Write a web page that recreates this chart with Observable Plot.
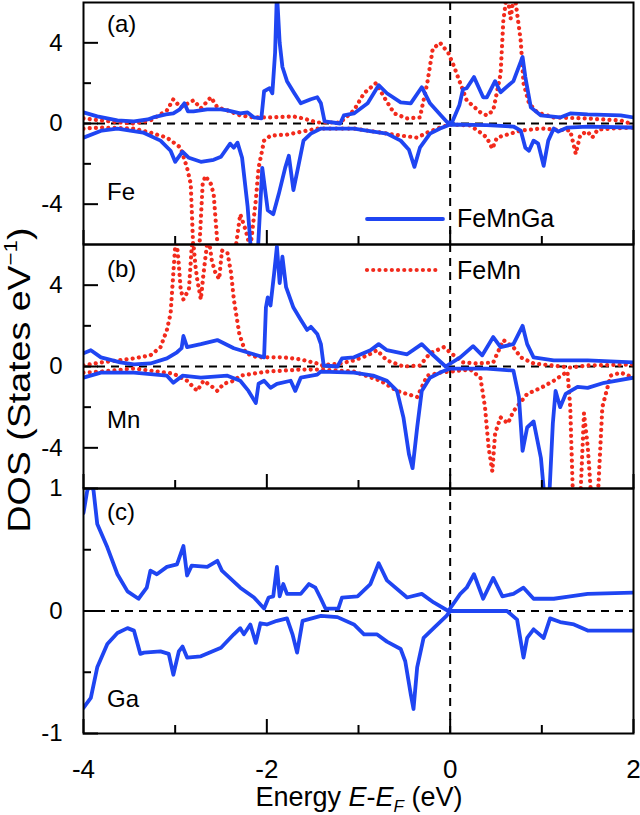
<!DOCTYPE html>
<html>
<head>
<meta charset="utf-8">
<script src="https://cdn.jsdelivr.net/npm/d3@7"></script>
<script src="https://cdn.jsdelivr.net/npm/@observablehq/plot@0.6"></script>
<style>
  html, body { margin: 0; padding: 0; background: #fff; }
  #chart { position: relative; width: 640px; height: 815px; overflow: hidden;
           font-family: "Liberation Sans", Arial, Helvetica, sans-serif; }
  #chart svg { position: absolute; left: 0; }
</style>
</head>
<body>
<div id="chart"></div>
<script>
// ---------------- data (energy in eV, DOS in states/eV) ----------------
const energyDomain = [-4, 2];
const xTickMajor = [-4, -2, 0, 2];
const xTickMinor = [-3, -1, 1];
const xTickLabels = [-4, -2, 0, 2];
const yTickMajorFeMn = [-4, 0, 4];
const yTickMinorFeMn = [-2, 2];
const yTickMajorGa = [-1, 0, 1];
const yTickMinorGa = [-0.5, 0.5];
const seriesNames = ["FeMnGa", "FeMn"];
const panelLetters = ["(a)", "(b)", "(c)"];
const elementNames = ["Fe", "Mn", "Ga"];

// (a) Fe — FeMnGa, spin up / spin down
const feUpGa = [[-4,0.55],[-3.85,0.35],[-3.63,0.15],[-3.45,0.1],[-3.3,0.2],[-3.24,0.3],[-3.1,0.45],[-3.02,0.5],[-2.95,0.7],[-2.9,1.0],[-2.86,0.6],[-2.8,0.6],[-2.65,0.7],[-2.5,0.7],[-2.43,0.65],[-2.29,0.5],[-2.21,0.55],[-2.14,0.3],[-2.06,0.25],[-2.03,1.6],[-1.97,1.75],[-1.94,1.5],[-1.91,3.5],[-1.89,6.5],[-1.86,4.0],[-1.83,2.8],[-1.78,2.1],[-1.7,1.5],[-1.63,1.0],[-1.52,1.2],[-1.45,1.3],[-1.41,1.0],[-1.37,0.1],[-1.2,0.0],[-1.16,0.4],[-1.05,0.5],[-0.9,1.0],[-0.78,1.9],[-0.69,1.5],[-0.54,1.05],[-0.43,1.0],[-0.31,1.8],[-0.22,1.0],[-0.1,0.4],[-0.03,0.05],[0.02,0.05],[0.1,0.9],[0.14,1.7],[0.18,1.75],[0.26,2.3],[0.36,1.3],[0.4,1.3],[0.49,2.1],[0.55,1.55],[0.69,2.1],[0.79,3.3],[0.82,2.3],[0.88,0.8],[0.99,0.4],[1.2,0.3],[1.31,0.5],[1.5,0.45],[1.86,0.4],[2,0.3]];
const feDnGa = [[-4,-0.7],[-3.8,-0.35],[-3.63,-0.25],[-3.35,-0.45],[-3.16,-0.85],[-3.05,-1.35],[-3.0,-1.9],[-2.92,-1.4],[-2.85,-1.7],[-2.72,-1.9],[-2.58,-1.8],[-2.5,-1.65],[-2.4,-1.0],[-2.36,-1.2],[-2.32,-0.95],[-2.27,-1.7],[-2.21,-4.1],[-2.17,-6.5],[-2.1,-6.5],[-2.05,-2.2],[-1.99,-4.3],[-1.93,-4.5],[-1.87,-3.5],[-1.8,-2.2],[-1.76,-1.6],[-1.71,-3.3],[-1.66,-2.2],[-1.6,-0.85],[-1.52,-0.5],[-1.41,-0.25],[-1.05,-0.25],[-0.84,-0.4],[-0.69,-0.5],[-0.54,-0.85],[-0.45,-1.3],[-0.39,-2.15],[-0.33,-1.2],[-0.22,-0.5],[-0.11,-0.25],[0,-0.05],[0.4,-0.08],[0.69,-0.15],[0.77,-0.35],[0.82,-1.2],[0.86,-1.35],[0.91,-0.85],[0.96,-1.0],[1.02,-2.1],[1.07,-0.85],[1.13,-0.25],[1.18,-0.4],[1.28,-0.2],[1.5,-0.15],[2,-0.2]];
// (a) Fe — FeMn
const feUpMn = [[-4,0.25],[-3.81,0.15],[-3.6,0.05],[-3.45,0.0],[-3.27,0.15],[-3.09,0.65],[-3.02,1.2],[-2.94,0.8],[-2.8,1.15],[-2.72,0.75],[-2.61,1.3],[-2.54,0.8],[-2.43,0.65],[-2.29,0.4],[-2.14,0.3],[-2.0,0.3],[-1.71,0.35],[-1.6,0.25],[-1.45,0.05],[-1.2,0.05],[-1.05,0.65],[-0.94,1.5],[-0.81,2.0],[-0.72,1.3],[-0.61,0.5],[-0.47,0.25],[-0.33,0.3],[-0.25,2.0],[-0.19,3.7],[-0.11,4.0],[-0.02,3.5],[0.04,2.85],[0.11,2.0],[0.18,1.15],[0.33,0.55],[0.4,0.4],[0.47,0.65],[0.55,2.45],[0.58,5.1],[0.62,6.5],[0.66,5.2],[0.7,6.5],[0.77,4.1],[0.8,2.0],[0.86,1.0],[0.95,0.55],[1.13,0.3],[1.5,0.25],[1.86,0.15],[2,-0.05]];
const feDnMn = [[-4,-0.25],[-3.81,-0.2],[-3.45,-0.25],[-3.27,-0.45],[-3.09,-0.7],[-2.94,-1.2],[-2.87,-2.2],[-2.83,-3.0],[-2.8,-6.5],[-2.74,-6.5],[-2.7,-3.0],[-2.67,-2.6],[-2.61,-3.0],[-2.58,-3.5],[-2.53,-6.5],[-2.35,-6.5],[-2.29,-4.5],[-2.23,-5.3],[-2.18,-6.2],[-2.12,-3.8],[-2.09,-2.2],[-2.03,-0.85],[-1.96,-0.6],[-1.78,-0.55],[-1.45,-0.25],[-1.05,-0.25],[-0.76,-0.45],[-0.54,-0.6],[-0.36,-0.7],[-0.25,-0.45],[-0.11,-0.2],[0,-0.05],[0.22,-0.1],[0.33,-0.45],[0.4,-0.7],[0.46,-1.25],[0.51,-0.7],[0.62,-0.55],[0.77,-0.35],[0.99,-0.25],[1.31,-0.35],[1.37,-1.5],[1.42,-0.55],[1.5,-0.4],[1.55,-0.7],[1.61,-0.3],[1.75,-0.25],[2,-0.2]];

// (b) Mn — FeMnGa
const mnUpGa = [[-4,0.65],[-3.92,0.8],[-3.81,0.45],[-3.6,0.2],[-3.45,0.1],[-3.27,0.15],[-3.09,0.4],[-2.98,0.7],[-2.93,0.9],[-2.91,1.5],[-2.87,0.95],[-2.72,1.1],[-2.54,1.3],[-2.36,0.9],[-2.18,0.65],[-2.03,0.45],[-2.01,2.9],[-1.99,3.4],[-1.96,3.0],[-1.92,4.6],[-1.89,5.9],[-1.86,4.1],[-1.83,5.4],[-1.79,3.9],[-1.71,2.9],[-1.63,2.3],[-1.56,1.8],[-1.52,1.95],[-1.45,1.6],[-1.41,1.1],[-1.38,0.05],[-1.23,0.0],[-1.18,0.4],[-1.05,0.45],[-0.87,0.8],[-0.78,1.1],[-0.69,0.8],[-0.47,0.6],[-0.31,1.1],[-0.22,0.7],[-0.05,0.0],[0.11,0.45],[0.25,1.0],[0.35,0.55],[0.47,1.45],[0.55,0.95],[0.69,1.1],[0.79,2.0],[0.84,1.1],[0.91,0.45],[1.13,0.3],[1.5,0.3],[2,0.2]];
const mnDnGa = [[-4,-0.55],[-3.81,-0.3],[-3.45,-0.3],[-3.09,-0.45],[-3.02,-0.8],[-2.92,-0.45],[-2.72,-0.55],[-2.43,-0.45],[-2.29,-0.7],[-2.2,-1.2],[-2.12,-1.8],[-2.09,-0.85],[-2.03,-0.7],[-1.96,-1.05],[-1.89,-0.85],[-1.74,-0.7],[-1.69,-1.2],[-1.63,-0.55],[-1.45,-0.4],[-1.41,-0.25],[-1.05,-0.3],[-0.84,-0.45],[-0.69,-0.7],[-0.58,-1.2],[-0.51,-2.5],[-0.45,-4.3],[-0.41,-5.0],[-0.36,-3.0],[-0.31,-1.2],[-0.22,-0.55],[-0.11,-0.3],[0,-0.1],[0.4,-0.1],[0.69,-0.2],[0.75,-1.5],[0.79,-4.15],[0.84,-3.0],[0.91,-2.7],[0.99,-4.5],[1.03,-6.5],[1.08,-6.5],[1.12,-2.8],[1.15,-1.2],[1.2,-2.0],[1.26,-1.35],[1.39,-1.0],[1.5,-1.05],[1.68,-0.8],[2,-0.55]];
// (b) Mn — FeMn
const mnUpMn = [[-4,0.05],[-3.81,0.2],[-3.45,0.4],[-3.27,0.55],[-3.16,0.95],[-3.09,1.8],[-3.05,2.6],[-3.02,4.6],[-2.99,6.5],[-2.96,5.0],[-2.94,3.8],[-2.91,3.3],[-2.85,3.8],[-2.81,6.5],[-2.78,5.0],[-2.76,4.3],[-2.72,3.3],[-2.69,4.6],[-2.64,6.5],[-2.6,5.2],[-2.56,4.6],[-2.52,4.3],[-2.49,5.7],[-2.43,5.6],[-2.39,4.6],[-2.36,3.3],[-2.3,1.6],[-2.23,0.65],[-2.1,0.45],[-1.82,0.45],[-1.63,0.35],[-1.45,0.15],[-1.41,0.05],[-1.2,0.15],[-1.05,0.3],[-0.9,0.55],[-0.8,0.8],[-0.69,0.3],[-0.51,0.0],[-0.33,0.05],[-0.22,0.65],[-0.07,0.95],[0.04,0.55],[0.14,0.2],[0.29,0.15],[0.47,0.2],[0.58,1.3],[0.69,0.95],[0.77,0.45],[0.91,0.15],[1.31,-0.05],[1.5,0.05],[2,0.1]];
const mnDnMn = [[-4,-0.3],[-3.81,-0.25],[-3.45,-0.1],[-3.19,-0.25],[-3.02,-0.35],[-2.87,-0.7],[-2.76,-1.2],[-2.69,-0.7],[-2.58,-1.05],[-2.54,-1.2],[-2.47,-0.85],[-2.36,-0.7],[-2.29,-0.45],[-2.0,-0.25],[-1.63,-0.15],[-1.41,-0.15],[-1.05,-0.25],[-0.76,-0.7],[-0.58,-1.2],[-0.36,-1.5],[-0.25,-0.45],[-0.11,-0.3],[0,-0.25],[0.22,-0.15],[0.33,-0.55],[0.38,-2.0],[0.42,-4.0],[0.46,-5.15],[0.49,-3.3],[0.55,-2.5],[0.63,-2.8],[0.69,-2.2],[0.84,-1.35],[0.99,-1.05],[1.13,-0.7],[1.28,-0.25],[1.31,-2.0],[1.34,-6.5],[1.42,-6.5],[1.46,-2.3],[1.5,-3.9],[1.54,-6.5],[1.61,-6.5],[1.66,-2.0],[1.75,-0.45],[1.86,-0.3],[2,-0.55]];

// (c) Ga — FeMnGa
const gaUp = [[-4,0.8],[-3.96,0.98],[-3.92,1.05],[-3.89,0.98],[-3.85,0.71],[-3.74,0.52],[-3.63,0.3],[-3.52,0.16],[-3.4,0.1],[-3.31,0.19],[-3.27,0.33],[-3.2,0.3],[-3.09,0.36],[-2.98,0.38],[-2.91,0.53],[-2.87,0.29],[-2.82,0.37],[-2.65,0.36],[-2.54,0.41],[-2.49,0.33],[-2.29,0.19],[-2.14,0.11],[-2.03,0.02],[-1.98,0.11],[-1.93,0.12],[-1.89,0.36],[-1.86,0.12],[-1.82,0.22],[-1.78,0.14],[-1.63,0.14],[-1.54,0.22],[-1.47,0.19],[-1.41,0.1],[-1.36,0.02],[-1.22,0.02],[-1.18,0.11],[-1.01,0.12],[-0.87,0.22],[-0.78,0.39],[-0.69,0.25],[-0.47,0.11],[-0.31,0.14],[-0.18,0.07],[-0.02,0.0],[0.11,0.14],[0.18,0.19],[0.26,0.3],[0.36,0.1],[0.47,0.27],[0.57,0.12],[0.69,0.14],[0.8,0.19],[0.91,0.1],[1.13,0.1],[1.31,0.12],[1.5,0.14],[2,0.15]];
const gaDn = [[-4,-0.79],[-3.92,-0.71],[-3.85,-0.46],[-3.74,-0.27],[-3.63,-0.18],[-3.52,-0.14],[-3.45,-0.16],[-3.38,-0.35],[-3.34,-0.34],[-3.16,-0.33],[-3.07,-0.35],[-3.02,-0.52],[-2.96,-0.33],[-2.92,-0.29],[-2.87,-0.38],[-2.72,-0.37],[-2.5,-0.3],[-2.36,-0.19],[-2.29,-0.14],[-2.25,-0.19],[-2.18,-0.11],[-2.12,-0.26],[-2.07,-0.1],[-2.0,-0.11],[-1.89,-0.08],[-1.78,-0.06],[-1.72,-0.19],[-1.67,-0.34],[-1.61,-0.08],[-1.41,-0.04],[-1.23,-0.05],[-1.05,-0.11],[-0.94,-0.19],[-0.8,-0.19],[-0.69,-0.25],[-0.54,-0.31],[-0.49,-0.41],[-0.43,-0.68],[-0.4,-0.8],[-0.36,-0.46],[-0.29,-0.22],[-0.18,-0.14],[-0.04,-0.04],[0,0],[0.62,0],[0.73,-0.07],[0.8,-0.38],[0.84,-0.22],[0.91,-0.15],[1.02,-0.22],[1.09,-0.06],[1.2,-0.09],[1.35,-0.11],[1.5,-0.16],[2,-0.16]];

// ---------------- styling ----------------
const BLUE = "#1f45f2";
const RED = "#f22a1c";
const FONT = "'Liberation Sans', Arial, Helvetica, sans-serif";
const W = 640, ML = 83, MR = 7;
const plotW = W - ML - MR;
const fmt = d => (d < 0 ? "-" : "") + Math.abs(d);
const styles = {
  FeMnGa: {stroke: BLUE, strokeWidth: 3.8, strokeDasharray: null},
  FeMn: {stroke: RED, strokeWidth: 4.2, strokeDasharray: "0.01,6.2"}
};

const panels = [
  {top: 0, height: 244, mt: 2, mb: 0, yDomain: [-6, 6], yMajor: yTickMajorFeMn, yMinor: yTickMinorFeMn,
   series: [["FeMn", feUpMn], ["FeMn", feDnMn], ["FeMnGa", feUpGa], ["FeMnGa", feDnGa]], xLabels: false},
  {top: 244, height: 244, mt: 0, mb: 0, yDomain: [-6, 6], yMajor: yTickMajorFeMn, yMinor: yTickMinorFeMn,
   series: [["FeMn", mnUpMn], ["FeMn", mnDnMn], ["FeMnGa", mnUpGa], ["FeMnGa", mnDnGa]], xLabels: false},
  {top: 488, height: 327, mt: 0, mb: 82, yDomain: [-1, 1], yMajor: yTickMajorGa, yMinor: yTickMinorGa,
   series: [["FeMnGa", gaUp], ["FeMnGa", gaDn]], xLabels: true}
];

const chart = document.getElementById("chart");

for (const p of panels) {
  const plotH = p.height - p.mt - p.mb;
  const marks = [
    Plot.ruleY([0], {stroke: "black", strokeWidth: 2, strokeDasharray: "8,6"}),
    Plot.ruleX([0], {stroke: "black", strokeWidth: 2, strokeDasharray: "8,6"}),
    ...p.series.map(([name, data]) => Plot.line(data, {
      x: d => d[0], y: d => d[1],
      stroke: styles[name].stroke, strokeWidth: styles[name].strokeWidth,
      strokeDasharray: styles[name].strokeDasharray,
      strokeLinecap: "round", strokeLinejoin: "round", clip: true
    })),
    Plot.tickY(p.yMajor, {y: d => d, insetRight: plotW - 15, stroke: "black", strokeWidth: 2}),
    Plot.tickY(p.yMinor, {y: d => d, insetRight: plotW - 8, stroke: "black", strokeWidth: 2}),
    Plot.tickX(xTickMajor, {x: d => d, insetTop: plotH - 14, stroke: "black", strokeWidth: 2}),
    Plot.tickX(xTickMinor, {x: d => d, insetTop: plotH - 8, stroke: "black", strokeWidth: 2}),
    Plot.frame({stroke: "black", strokeWidth: 2}),
    Plot.axisY({ticks: p.yMajor, tickSize: 0, tickPadding: 21, fontSize: 24, tickFormat: fmt, label: null})
  ];
  if (p.xLabels) {
    marks.push(Plot.axisX({ticks: xTickLabels, tickSize: 0, tickPadding: 26, fontSize: 26, tickFormat: fmt, label: null}));
  }
  const svg = Plot.plot({
    width: W, height: p.height,
    marginLeft: ML, marginRight: MR, marginTop: p.mt, marginBottom: p.mb,
    x: p.xLabels ? {domain: energyDomain} : {domain: energyDomain, axis: null},
    y: {domain: p.yDomain},
    style: {background: "transparent", overflow: "visible", fontFamily: FONT, color: "black"},
    marks
  });
  svg.style.top = p.top + "px";
  chart.appendChild(svg);
}

// ---------------- overlay: legend, panel labels, axis titles ----------------
const ov = d3.create("svg")
  .attr("width", W).attr("height", 815)
  .style("top", "0px").style("overflow", "visible")
  .style("font-family", FONT);

// legend
const legend = [
  {name: seriesNames[0], y: 219, x2: 443, textY: 227},
  {name: seriesNames[1], y: 270, x2: 440, textY: 279}
];
for (const l of legend) {
  const s = styles[l.name];
  ov.append("line").attr("x1", 367).attr("x2", l.x2).attr("y1", l.y).attr("y2", l.y)
    .attr("stroke", s.stroke).attr("stroke-width", s.strokeWidth)
    .attr("stroke-dasharray", s.strokeDasharray).attr("stroke-linecap", "round");
  ov.append("text").attr("x", 457).attr("y", l.textY).attr("font-size", 25).text(l.name);
}

// panel labels
const labelPos = [[32, 200], [277, 428], [520, 707]];
panelLetters.forEach((t, i) => {
  ov.append("text").attr("x", 107).attr("y", labelPos[i][0]).attr("font-size", 24).text(t);
  ov.append("text").attr("x", 107).attr("y", labelPos[i][1]).attr("font-size", 24).text(elementNames[i]);
});

// y title
const yt = ov.append("text").attr("transform", "translate(30,380) rotate(-90)")
  .attr("text-anchor", "middle").attr("font-size", 32)
  .attr("textLength", 305).attr("lengthAdjust", "spacingAndGlyphs");
yt.append("tspan").text("DOS (States eV");
yt.append("tspan").attr("font-size", 19).attr("dy", -13).text("\u22121");
yt.append("tspan").attr("dy", 13).text(")");

// x title
const xt = ov.append("text").attr("x", 359).attr("y", 806)
  .attr("text-anchor", "middle").attr("font-size", 27);
xt.append("tspan").text("Energy ");
xt.append("tspan").attr("font-style", "italic").text("E");
xt.append("tspan").text("-");
xt.append("tspan").attr("font-style", "italic").text("E");
xt.append("tspan").attr("font-style", "italic").attr("font-size", 17).attr("dy", 6).text("F");
xt.append("tspan").attr("dy", -6).text(" (eV)");

chart.appendChild(ov.node());
</script>
</body>
</html>
